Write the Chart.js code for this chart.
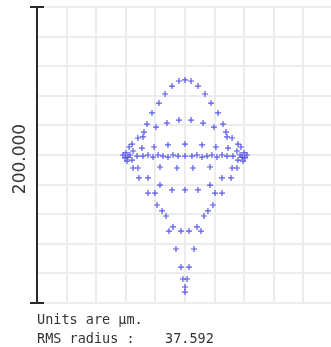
<!DOCTYPE html>
<html>
<head>
<meta charset="utf-8">
<script src="https://cdn.jsdelivr.net/npm/chart.js@4/dist/chart.umd.min.js"></script>
<style>
  html, body { margin: 0; padding: 0; background: #ffffff; }
  #wrap { position: relative; width: 331px; height: 347px; overflow: hidden; }
  canvas { display: block; }
</style>
</head>
<body>
<div id="wrap"><canvas id="spot" width="340" height="347"></canvas></div>
<script>
// Spot diagram: ray intercepts relative to the chief ray, in micrometres.
const spotX = [
  0, -4.1, 4.1, -8.8, 8.8, -13.5, 13.5, -17.6, 17.6, -22.3, 22.3,
  -25.7, 25.7, -27.7, 27.7, -31.8, 31.8, -35.8, 35.8,
  -4.1, 4.1, -12.2, 12.2, -19.6, 19.6, -28.4, 28.4, -37.8, 37.8,
  -29.1, 29.1, -20.9, 20.9, -11.5, 11.5, 0,
  -41.9, -40.5, -39.9, -38.5, -37.2, -35.8, -39.2,
  41.9, 40.5, 39.9, 38.5, 37.2, 35.8, 39.2,
  -35.1, 35.1,
  -32.4, 32.4, -28.4, 28.4, -25.0, 25.0, -21.6, 21.6, -18.2, 18.2,
  -14.9, 14.9, -11.5, 11.5, -8.1, 8.1, -4.7, 4.7, 0,
  -35.1, 35.1, -31.8, 31.8, -16.9, 16.9, -5.4, 5.4,
  -31.1, 31.1, -25.0, 25.0, -16.9, 16.9, -8.8, 0, 8.8,
  -25.0, 25.0, -20.3, 20.3, -18.9, 18.9, -15.5, 15.5, -12.8, 12.8,
  -8.1, 8.1, -10.8, 10.8, -2.7, 2.7, -6.1, 6.1, -2.7, 2.7,
  -1.4, 1.4, 0, 0
];
const spotY = [
  50.7, 50.0, 50.0, 46.6, 46.6, 41.2, 41.2, 35.1, 35.1, 28.4, 28.4,
  20.9, 20.9, 15.5, 15.5, 11.5, 11.5, 7.4, 7.4,
  23.6, 23.6, 21.6, 21.6, 18.9, 18.9, 12.2, 12.2, 5.4, 5.4,
  4.7, 4.7, 5.4, 5.4, 6.8, 6.8, 7.4,
  0, -2.0, 1.4, -1.4, 0, -3.4, -4.1,
  0, -2.0, 1.4, -1.4, 0, -3.4, -4.1,
  2.7, 2.7,
  -0.7, -0.7, -0.7, -0.7, 0, 0, -1.4, -1.4, 0, 0,
  -0.7, -0.7, -1.4, -1.4, 0, 0, -0.7, -0.7, -0.7,
  -8.8, -8.8, -8.8, -8.8, -8.1, -8.1, -8.8, -8.8,
  -15.5, -15.5, -15.5, -15.5, -20.3, -20.3, -23.6, -23.6, -23.6,
  -25.7, -25.7, -25.7, -25.7, -33.8, -33.8, -37.8, -37.8, -41.2, -41.2,
  -48.6, -48.6, -51.4, -51.4, -51.4, -51.4, -63.5, -63.5, -75.7, -75.7,
  -83.8, -83.8, -89.2, -92.6
];

// Box size shown on the scale bar, and the footer lines
const scaleLabel = "200.000";
const unitsText = "Units are \u00b5m.";
const rmsLabel = "RMS radius :";
const rmsValue = "37.592";
const halfBox = 100;   // half of the 200 µm box
const gridStep = 20;

const points = spotX.map((x, i) => ({ x: x, y: spotY[i] }));

const annotate = {
  id: 'spotAnnotate',
  afterDraw(chart) {
    const ctx = chart.ctx;
    const a = chart.chartArea;
    ctx.save();
    // scale bar on the left side
    ctx.strokeStyle = '#2a2a2a';
    ctx.lineWidth = 2;
    ctx.beginPath();
    ctx.moveTo(a.left, a.top);
    ctx.lineTo(a.left, a.bottom);
    ctx.moveTo(a.left - 7, a.top);
    ctx.lineTo(a.left + 7, a.top);
    ctx.moveTo(a.left - 7, a.bottom);
    ctx.lineTo(a.left + 7, a.bottom);
    ctx.stroke();

    // scale value, rotated
    ctx.fillStyle = '#3a3a3a';
    ctx.font = '17px "DejaVu Sans", sans-serif';
    ctx.translate(21, (a.top + a.bottom) / 2 + 4);
    ctx.rotate(-Math.PI / 2);
    ctx.textAlign = 'center';
    ctx.textBaseline = 'middle';
    ctx.fillText(scaleLabel, 0, 0);
    ctx.restore();

    // footer
    ctx.save();
    ctx.fillStyle = '#333333';
    ctx.font = '13.5px "DejaVu Sans Mono", monospace';
    ctx.textAlign = 'left';
    ctx.textBaseline = 'alphabetic';
    ctx.fillText(unitsText, a.left, a.bottom + 21);
    ctx.fillText(rmsLabel, a.left, a.bottom + 40);
    ctx.fillText(rmsValue, 165, a.bottom + 40);
    ctx.restore();
  }
};

new Chart(document.getElementById('spot'), {
  type: 'scatter',
  data: {
    datasets: [{
      data: points,
      pointStyle: 'cross',
      pointRadius: 3,
      pointBorderWidth: 1.2,
      borderColor: 'rgba(60,60,232,0.85)',
      backgroundColor: 'rgba(60,60,232,0.85)',
      pointHoverRadius: 3
    }]
  },
  options: {
    responsive: false,
    animation: false,
    devicePixelRatio: 1,
    layout: { padding: { left: 37, top: 7, right: 7, bottom: 44 } },
    plugins: { legend: { display: false }, tooltip: { enabled: false } },
    scales: {
      x: {
        type: 'linear',
        min: -halfBox, max: halfBox,
        ticks: { display: false, stepSize: gridStep },
        grid: { color: '#ececec', lineWidth: 2, drawTicks: false },
        border: { display: false }
      },
      y: {
        type: 'linear',
        min: -halfBox, max: halfBox,
        ticks: { display: false, stepSize: gridStep },
        grid: { color: '#ececec', lineWidth: 2, drawTicks: false },
        border: { display: false }
      }
    }
  },
  plugins: [annotate]
});
</script>
</body>
</html>
